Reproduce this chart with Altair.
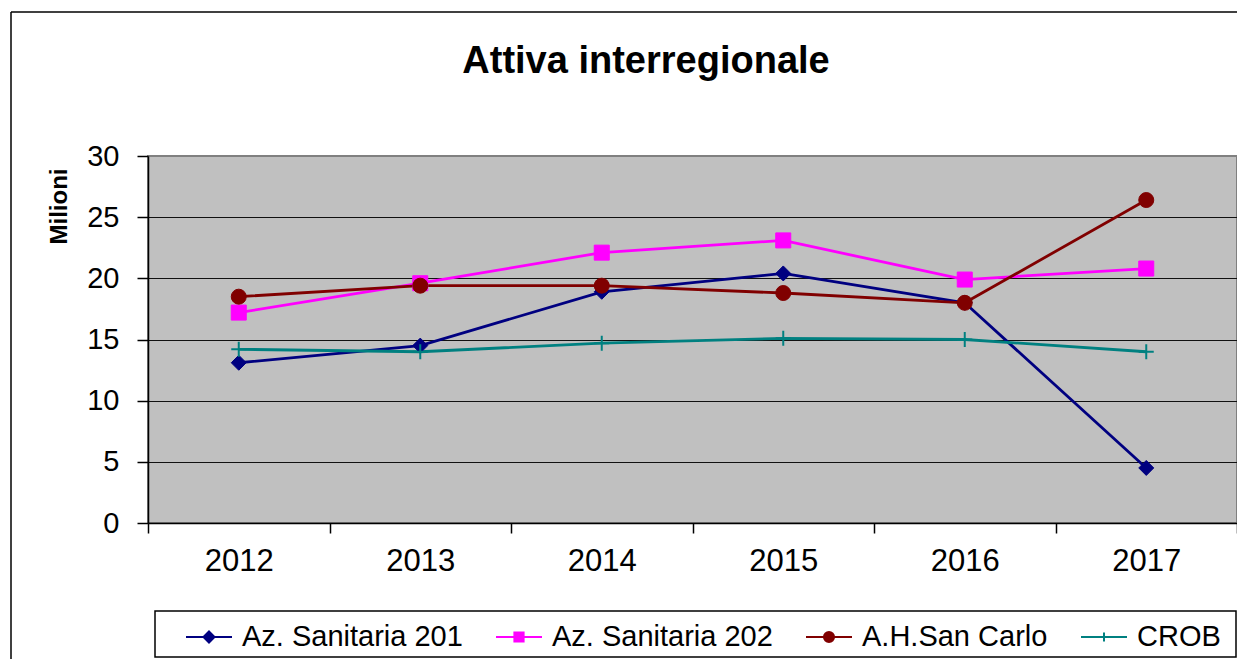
import altair as alt
import pandas as pd

years = ["2012", "2013", "2014", "2015", "2016", "2017"]
series_names = ["Az. Sanitaria 201", "Az. Sanitaria 202", "A.H.San Carlo", "CROB"]
az201 = [13.1, 14.5, 18.9, 20.4, 18.0, 4.5]
az202 = [17.2, 19.6, 22.1, 23.1, 19.9, 20.8]
sancarlo = [18.5, 19.4, 19.4, 18.8, 18.0, 26.4]
crob = [14.2, 14.0, 14.7, 15.1, 15.0, 14.0]
colors = ["#000080", "#FF00FF", "#800000", "#008080"]
marker_shapes = ["diamond", "square", "circle", "M-1,0L1,0M0,-1L0,1"]
y_ticks = [0, 5, 10, 15, 20, 25, 30]

rows = []
for name, vals in zip(series_names, [az201, az202, sancarlo, crob]):
    for yr, v in zip(years, vals):
        rows.append({"year": yr, "series": name, "value": v})
df = pd.DataFrame(rows)

FONT = "Liberation Sans"

x_enc = alt.X(
    "year:N", sort=years, bandPosition=0.5,
    scale=alt.Scale(type="band", domain=years, paddingInner=0, paddingOuter=0),
    axis=alt.Axis(title=None, labelAngle=0, tickBand="extent", grid=False,
                  tickSize=10, labelPadding=13, labelFontSize=31, labelFont=FONT,
                  labelColor="black", domainColor="black", tickColor="black",
                  domainWidth=1.5, tickWidth=1.5),
)
y_enc = alt.Y(
    "value:Q",
    scale=alt.Scale(domain=[0, 30], nice=False, zero=True),
    axis=alt.Axis(values=y_ticks, title="Milioni", titleFont=FONT, titleFontSize=24,
                  titleFontWeight="bold", titleColor="black", titleAngle=270,
                  titleX=-89, titleY=50, titleAlign="center", titleBaseline="middle",
                  tickSize=11, labelPadding=18, labelFontSize=29, labelFont=FONT,
                  labelColor="black", domainColor="black", tickColor="black",
                  domainWidth=1.5, tickWidth=1.5,
                  grid=True, gridWidth=1.2,
                  gridColor={"condition": {"test": "datum.value === 30", "value": "#808080"},
                             "value": "#111111"}),
)

shape_expr = (
    "datum.value === 'Az. Sanitaria 201' ? 'M-1,0L1,0M0,-0.24L0.24,0L0,0.24L-0.24,0Z' : "
    "datum.value === 'Az. Sanitaria 202' ? 'M-1,0L1,0M-0.2,-0.2L0.2,-0.2L0.2,0.2L-0.2,0.2Z' : "
    "datum.value === 'A.H.San Carlo' ? 'M-1,0L1,0M-0.22,0A0.22,0.22,0,1,0,0.22,0A0.22,0.22,0,1,0,-0.22,0Z' : "
    "'M-1,0L1,0M0,-0.2L0,0.2'"
)
fill_expr = "datum.value === 'CROB' ? 'transparent' : scale('color', datum.value)"

legend = alt.Legend(
    title=None, orient="none", legendX=37, legendY=457, direction="horizontal",
    symbolSize=2116, symbolStrokeWidth=2, labelFont=FONT, labelFontSize=29,
    labelColor="black", labelOffset=9, columnPadding=29, padding=0, labelLimit=0,
    symbolType=alt.ExprRef(expr=shape_expr),
    symbolFillColor=alt.ExprRef(expr=fill_expr),
    symbolOpacity=1,
)

lines = alt.Chart(df).mark_line(strokeWidth=2.8).encode(
    x=x_enc, y=y_enc,
    color=alt.Color("series:N", sort=series_names,
                    scale=alt.Scale(domain=series_names, range=colors), legend=legend),
    detail="series:N",
)

point_layers = []
for name, col, shp in zip(series_names, colors, marker_shapes):
    is_cross = shp.startswith("M")
    pl = alt.Chart(df).transform_filter(alt.datum.series == name).mark_point(
        shape=shp, size=225, opacity=1,
        filled=not is_cross,
        fill=("transparent" if is_cross else col), stroke=col,
        strokeWidth=2 if is_cross else 1,
        fillOpacity=1,
    ).encode(x=x_enc, y=y_enc)
    point_layers.append(pl)

one = alt.Data(values=[{"k": 1}])

frame_left = alt.Chart(one).mark_rule(color="black", strokeWidth=1.5).encode(
    x=alt.value(-137), y=alt.value(-144), y2=alt.value(510))
frame_top = alt.Chart(one).mark_rule(color="black", strokeWidth=1.5).encode(
    x=alt.value(-137), x2=alt.value(1100), y=alt.value(-144))

legend_box = alt.Chart(one).mark_rect(fill="white", stroke="black", strokeWidth=1.5).encode(
    x=alt.value(7), x2=alt.value(1088), y=alt.value(455), y2=alt.value(501))

title = alt.Chart(one).mark_text(font=FONT, fontSize=38, fontWeight="bold", align="center",
                                 baseline="alphabetic", color="black").encode(
    x=alt.value(498), y=alt.value(-83), text=alt.value("Attiva interregionale"))

chart = alt.layer(frame_left, frame_top, legend_box, lines, *point_layers, title).properties(
    width=1089, height=367, autosize="none",
    padding={"left": 140, "top": 148, "right": 0, "bottom": 136},
    background="white",
).configure_view(fill="#C0C0C0", stroke="#808080", strokeWidth=2)

chart.save("out.html", embed_options={"renderer": "svg", "actions": False})
